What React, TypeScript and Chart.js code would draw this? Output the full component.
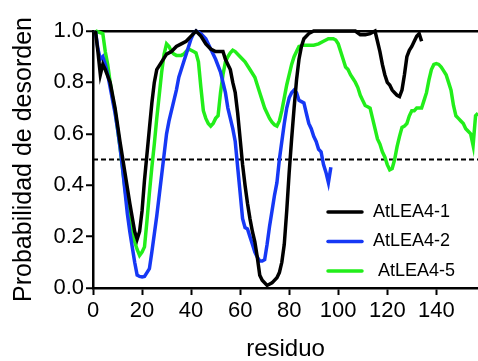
import React, { useEffect, useRef } from "react";
import { Chart, registerables } from "chart.js";

Chart.register(...registerables);

const FONT = "'Liberation Sans', Arial, sans-serif";

const xTicks = [0, 20, 40, 60, 80, 100, 120, 140];
const yTicks = [0, 0.2, 0.4, 0.6, 0.8, 1.0];
const xMax = 157;
const threshold = 0.5;

const seriesLabels = ["AtLEA4-1", "AtLEA4-2", " AtLEA4-5"];
const seriesColors = ["#000000", "#1638f5", "#22ee1a"];

const lea1X = [1, 2, 3, 4, 5, 7, 9, 11, 13, 15, 17, 18, 19, 20, 21, 22, 23, 24, 25, 26, 28, 30, 32, 34, 36, 38, 40, 42, 44, 46, 48, 50, 52, 53, 54, 55, 56, 57, 58, 59, 60, 61, 62, 63, 64, 65, 66, 67, 68, 69, 71, 73, 75, 76, 77, 78, 79, 80, 81, 82, 83, 84, 85, 86, 88, 90, 100, 107, 109, 111, 113, 115, 116, 117, 118, 119, 120, 121, 122, 123, 124, 125, 126, 127, 128, 129, 130, 131, 132, 133, 134];
const lea1Y = [1.0, 0.92, 0.83, 0.87, 0.85, 0.8, 0.7, 0.57, 0.45, 0.33, 0.22, 0.19, 0.22, 0.3, 0.42, 0.52, 0.62, 0.72, 0.8, 0.85, 0.88, 0.91, 0.92, 0.94, 0.95, 0.96, 0.98, 1.0, 0.98, 0.95, 0.93, 0.92, 0.92, 0.92, 0.89, 0.87, 0.85, 0.8, 0.76, 0.68, 0.58, 0.48, 0.4, 0.33, 0.27, 0.22, 0.18, 0.12, 0.05, 0.03, 0.01, 0.02, 0.04, 0.06, 0.1, 0.17, 0.3, 0.45, 0.58, 0.7, 0.81, 0.89, 0.94, 0.97, 0.99, 1.0, 1.0, 1.0, 0.985, 0.985, 0.99, 1.0, 0.96, 0.92, 0.87, 0.83, 0.8, 0.79, 0.77, 0.76, 0.75, 0.745, 0.77, 0.83, 0.9, 0.925, 0.94, 0.96, 0.98, 0.99, 0.96];

const lea2X = [1, 2, 3, 4, 5, 6, 7, 8, 9, 10, 11, 12, 13, 14, 15, 16, 17, 18, 19, 20, 21, 22, 23, 24, 25, 26, 27, 28, 29, 30, 31, 32, 33, 34, 35, 36, 37, 38, 39, 40, 41, 42, 44, 46, 48, 50, 52, 53, 54, 55, 56, 57, 58, 59, 60, 61, 62, 63, 64, 65, 66, 67, 68, 69, 70, 71, 72, 73, 74, 75, 76, 77, 78, 79, 80, 81, 82, 83, 84, 85, 86, 87, 88, 89, 90, 91, 92, 93, 94, 95, 96, 97];
const lea2Y = [1.0, 0.93, 0.89, 0.9, 0.87, 0.83, 0.78, 0.73, 0.68, 0.62, 0.55, 0.47, 0.38, 0.29, 0.22, 0.16, 0.1, 0.05, 0.045, 0.043, 0.045, 0.06, 0.075, 0.14, 0.21, 0.28, 0.36, 0.44, 0.52, 0.6, 0.65, 0.69, 0.73, 0.77, 0.82, 0.85, 0.88, 0.91, 0.94, 0.97, 0.99, 1.0, 0.99, 0.97, 0.93, 0.89, 0.84, 0.8, 0.76, 0.7, 0.66, 0.62, 0.57, 0.47, 0.37, 0.27, 0.235, 0.23, 0.2, 0.17, 0.14, 0.12, 0.105, 0.105, 0.11, 0.17, 0.24, 0.3, 0.36, 0.41, 0.5, 0.57, 0.64, 0.7, 0.74, 0.76, 0.77, 0.76, 0.73, 0.725, 0.72, 0.68, 0.64, 0.62, 0.59, 0.57, 0.54, 0.53, 0.48, 0.45, 0.41, 0.47];

const lea5X = [1, 4, 5, 6, 7, 8, 9, 10, 11, 12, 13, 14, 15, 16, 17, 18, 19, 20, 21, 22, 23, 24, 25, 26, 27, 28, 29, 30, 31, 32, 33, 34, 35, 36, 37, 38, 39, 40, 41, 42, 43, 44, 45, 46, 47, 48, 49, 50, 51, 52, 53, 54, 55, 56, 57, 58, 60, 62, 64, 66, 67, 68, 69, 70, 71, 72, 73, 74, 75, 76, 77, 78, 79, 80, 81, 82, 83, 84, 86, 88, 90, 92, 94, 96, 98, 99, 100, 101, 102, 103, 104, 105, 106, 107, 108, 109, 110, 111, 112, 113, 114, 115, 116, 117, 118, 119, 120, 121, 122, 123, 124, 125, 126, 127, 128, 129, 130, 131, 132, 133, 134, 135, 136, 137, 138, 139, 140, 141, 142, 143, 144, 145, 146, 147, 148, 149, 150, 151, 152, 153, 154, 155, 156, 157];
const lea5Y = [1.0, 0.99, 0.92, 0.87, 0.8, 0.74, 0.69, 0.62, 0.55, 0.47, 0.39, 0.32, 0.26, 0.21, 0.18, 0.15, 0.127, 0.14, 0.16, 0.26, 0.37, 0.47, 0.56, 0.66, 0.75, 0.84, 0.91, 0.95, 0.94, 0.92, 0.91, 0.905, 0.905, 0.905, 0.91, 0.92, 0.93, 0.925, 0.92, 0.915, 0.88, 0.78, 0.69, 0.66, 0.64, 0.63, 0.64, 0.66, 0.67, 0.76, 0.83, 0.88, 0.9, 0.915, 0.925, 0.92, 0.9, 0.88, 0.85, 0.82, 0.79, 0.76, 0.73, 0.7, 0.68, 0.66, 0.645, 0.635, 0.63, 0.65, 0.69, 0.74, 0.79, 0.83, 0.87, 0.9, 0.92, 0.94, 0.945, 0.945, 0.945, 0.95, 0.96, 0.97, 0.97, 0.965, 0.95, 0.92, 0.89, 0.86, 0.85, 0.83, 0.815, 0.8, 0.78, 0.75, 0.73, 0.71, 0.705, 0.7, 0.66, 0.62, 0.58, 0.56, 0.53, 0.51, 0.48, 0.46, 0.465, 0.5, 0.55, 0.59, 0.625, 0.63, 0.64, 0.67, 0.69, 0.69, 0.7, 0.7, 0.7, 0.73, 0.76, 0.81, 0.85, 0.87, 0.873, 0.87, 0.86, 0.845, 0.83, 0.8, 0.77, 0.71, 0.67, 0.66, 0.65, 0.64, 0.62, 0.61, 0.6, 0.555, 0.67, 0.68];

const seriesX = [lea1X, lea2X, lea5X];
const seriesY = [lea1Y, lea2Y, lea5Y];

const legendPlugin = {
  id: "insideLegend",
  afterDraw(chart: any) {
    const { ctx, chartArea } = chart;
    ctx.save();
    ctx.font = `18px ${FONT}`;
    ctx.textBaseline = "middle";
    ctx.textAlign = "left";
    const lx0 = chartArea.left + 235;
    const lx1 = lx0 + 34;
    const tx = lx0 + 45;
    let y = chartArea.top + 181;
    chart.data.datasets.forEach((ds: any) => {
      if (!ds.inLegend) return;
      ctx.strokeStyle = ds.borderColor;
      ctx.lineWidth = 3.5;
      ctx.lineCap = "round";
      ctx.beginPath();
      ctx.moveTo(lx0, y);
      ctx.lineTo(lx1, y);
      ctx.stroke();
      ctx.fillStyle = "#000";
      ctx.fillText(ds.label, tx, y);
      y += 29.5;
    });
    ctx.restore();
  },
};

export default function App() {
  const ref = useRef<HTMLCanvasElement>(null);
  useEffect(() => {
    if (!ref.current) return;
    const datasets: any[] = seriesLabels.map((label, i) => ({
      label,
      inLegend: true,
      data: seriesX[i].map((x, j) => ({ x, y: seriesY[i][j] })),
      borderColor: seriesColors[i],
      backgroundColor: seriesColors[i],
      borderWidth: 3.5,
      pointRadius: 0,
      tension: 0,
      clip: false,
    }));
    datasets.push({
      label: "threshold",
      inLegend: false,
      data: [
        { x: 0, y: threshold },
        { x: xMax, y: threshold },
      ],
      borderColor: "#000",
      borderWidth: 2,
      borderDash: [5, 3],
      pointRadius: 0,
      clip: false,
    });
    const chart = new Chart(ref.current, {
      type: "line",
      data: { datasets },
      plugins: [legendPlugin],
      options: {
        responsive: false,
        animation: false,
        layout: { padding: { top: 31, left: 0, right: 0, bottom: 0 } },
        plugins: { legend: { display: false }, tooltip: { enabled: false } },
        scales: {
          x: {
            type: "linear",
            min: 0,
            max: xMax,
            afterBuildTicks: (s: any) => {
              s.ticks = xTicks.map((v) => ({ value: v }));
            },
            afterFit: (s: any) => {
              s.height = 73;
            },
            grid: {
              display: true,
              drawOnChartArea: false,
              tickColor: "#000",
              tickLength: 7,
              tickWidth: 2,
            },
            border: { display: true, color: "#000", width: 2.5 },
            ticks: {
              color: "#000",
              font: { family: FONT, size: 22 },
              padding: 3,
              maxRotation: 0,
              autoSkip: false,
            },
            title: {
              display: true,
              text: "residuo",
              color: "#000",
              font: { family: FONT, size: 24, lineHeight: 1 },
              padding: 0,
            },
          },
          y: {
            type: "linear",
            min: 0,
            max: 1,
            afterBuildTicks: (s: any) => {
              s.ticks = yTicks.map((v) => ({ value: v }));
            },
            afterFit: (s: any) => {
              s.width = 93;
            },
            grid: {
              display: true,
              drawOnChartArea: true,
              color: (c: any) => (c.tick && c.tick.value === 1 ? "#000" : "rgba(0,0,0,0)"),
              lineWidth: 2.5,
              tickColor: "#000",
              tickLength: 7,
              tickWidth: 2,
            },
            border: { display: true, color: "#000", width: 2.5 },
            ticks: {
              color: "#000",
              font: { family: FONT, size: 22 },
              padding: 2,
              callback: (v: any) => Number(v).toFixed(1),
            },
            title: {
              display: true,
              text: "Probabilidad de desorden",
              color: "#000",
              font: { family: FONT, size: 25, lineHeight: 1 },
              padding: { top: 12, bottom: 0 },
            },
          },
        },
      } as any,
    });
    return () => chart.destroy();
  }, []);
  return (
    <div style={{ position: "absolute", left: 0, top: 0, width: 478, height: 361, background: "#fff" }}>
      <canvas ref={ref} width={478} height={361} style={{ display: "block" }} />
    </div>
  );
}
